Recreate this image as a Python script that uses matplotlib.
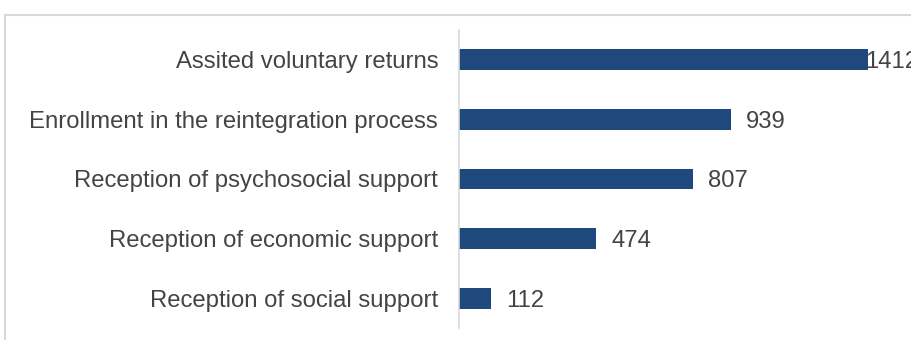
import matplotlib.pyplot as plt
from matplotlib.patches import Rectangle

plt.rcParams['font.family'] = ['Liberation Sans', 'DejaVu Sans']

categories = [
    "Assited voluntary returns",
    "Enrollment in the reintegration process",
    "Reception of psychosocial support",
    "Reception of economic support",
    "Reception of social support",
]
values = [1412, 939, 807, 474, 112]

W, H = 911, 340
fig = plt.figure(figsize=(W / 100, H / 100), dpi=100)

# light frame around the chart area (runs off the right and bottom edges)
fig.patches.append(Rectangle((5 / W, -0.05), 1.05, (H - 15) / H + 0.05,
                             transform=fig.transFigure, fill=False,
                             edgecolor='#d9d9d9', linewidth=1.5))

ax = fig.add_axes([459 / W, 12 / H, (W - 459) / W, 298 / H])
y = list(range(len(categories)))
ax.barh(y, values, height=0.35, color='#1f497d')
ax.set_ylim(len(categories) - 0.5, -0.5)
ax.set_xlim(0, (W - 459) / 0.29)

fs = 17.2
for i, v in enumerate(values):
    off = -3 / 0.29 if v == max(values) else 15 / 0.29
    ax.text(v + off, i + 0.04, str(v), va='center', ha='left',
            fontsize=fs, color='#444444', clip_on=False)

ax.set_yticks(y)
ax.set_yticklabels(categories, fontsize=fs, color='#444444')
ax.tick_params(axis='y', length=0, pad=15)
ax.set_xticks([])
for s in ['top', 'right', 'bottom']:
    ax.spines[s].set_visible(False)
ax.spines['left'].set_color('#d9d9d9')
ax.spines['left'].set_linewidth(1.2)

fig.savefig('out.png', dpi=100)
